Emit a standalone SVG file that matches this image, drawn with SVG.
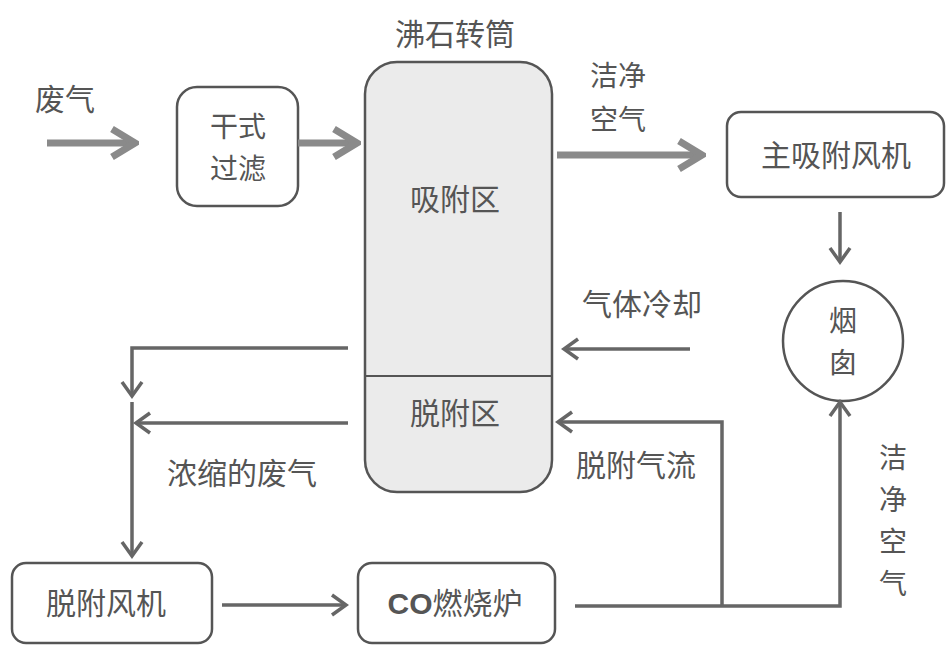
<svg xmlns="http://www.w3.org/2000/svg" width="947" height="647" viewBox="0 0 947 647">
<style>
text{font-family:"Noto Sans CJK SC","Noto Sans",sans-serif;fill:#555;font-size:30px;text-anchor:middle}
.two{font-size:28px}
.box{fill:#fff;stroke:#555;stroke-width:2.5}
.thick{stroke:#8a8a8a;stroke-width:7;fill:none}
.thin{stroke:#666;stroke-width:3.5;fill:none}
</style>
<defs>
<marker id="hk" markerUnits="userSpaceOnUse" viewBox="0 0 32 36" refX="28" refY="18" markerWidth="32" markerHeight="36" orient="auto">
<path d="M5,4 L28,18 L5,32" fill="none" stroke="#8a8a8a" stroke-width="7"/>
</marker>
<marker id="hn" markerUnits="userSpaceOnUse" viewBox="0 0 20 24" refX="17" refY="12" markerWidth="20" markerHeight="24" orient="auto">
<path d="M3,2 L17,12 L3,22" fill="none" stroke="#666" stroke-width="3.5"/>
</marker>
</defs>
<rect width="947" height="647" fill="#fff"/>

<g id="rotor">
<rect x="365" y="62" width="187" height="430" rx="32" fill="#ebebeb" stroke="#555" stroke-width="2.5"/>
<line x1="366" y1="376" x2="551" y2="376" stroke="#555" stroke-width="2"/>
<text x="455" y="45">沸石转筒</text>
<text x="455" y="210">吸附区</text>
<text x="455" y="424">脱附区</text>
</g>
<g id="filter">
<rect class="box" x="177" y="87" width="121" height="119" rx="20"/>
<text class="two" x="238" y="137">干式</text>
<text class="two" x="238" y="179">过滤</text>
</g>
<g id="mainfan">
<rect class="box" x="727" y="112" width="217" height="85" rx="14"/>
<text x="836" y="166">主吸附风机</text>
</g>
<g id="chimney">
<circle cx="843" cy="341" r="60" fill="#fff" stroke="#555" stroke-width="2.5"/>
<text class="two" x="843" y="331">烟</text>
<text class="two" x="843" y="373">囱</text>
</g>
<g id="desorbfan">
<rect class="box" x="12" y="563" width="200" height="80" rx="14"/>
<text x="106" y="614">脱附风机</text>
</g>
<g id="burner">
<rect class="box" x="358" y="563" width="197" height="80" rx="14"/>
<text x="455" y="614"><tspan style="font-family:'Liberation Sans',sans-serif;font-weight:bold">CO</tspan>燃烧炉</text>
</g>

<g id="labels">
<text x="65" y="110">废气</text>
<text class="two" x="618" y="86">洁净</text>
<text class="two" x="618" y="130">空气</text>
<text x="642" y="315">气体冷却</text>
<text x="636" y="476">脱附气流</text>
<text x="242" y="484">浓缩的废气</text>
<text class="two" x="893" y="468">洁</text>
<text class="two" x="893" y="510">净</text>
<text class="two" x="893" y="552">空</text>
<text class="two" x="893" y="594">气</text>
</g>

<g id="connectors">
<line class="thick" x1="47" y1="143" x2="135" y2="143" marker-end="url(#hk)"/>
<line class="thick" x1="298" y1="143" x2="357" y2="143" marker-end="url(#hk)"/>
<line class="thick" x1="557" y1="155" x2="702" y2="155" marker-end="url(#hk)"/>
<line class="thin" x1="840" y1="212" x2="840" y2="262" marker-end="url(#hn)"/>
<line class="thin" x1="690" y1="349" x2="564" y2="349" marker-end="url(#hn)"/>
<polyline class="thin" points="575,606 840,606 840,402" marker-end="url(#hn)"/>
<polyline class="thin" points="722,606 722,422 558,422" marker-end="url(#hn)"/>
<polyline class="thin" points="348,348 132,348 132,396" marker-end="url(#hn)"/>
<line class="thin" x1="348" y1="423" x2="136" y2="423" marker-end="url(#hn)"/>
<line class="thin" x1="132" y1="402" x2="132" y2="556" marker-end="url(#hn)"/>
<line class="thin" x1="222" y1="605" x2="346" y2="605" marker-end="url(#hn)"/>
</g>
</svg>
